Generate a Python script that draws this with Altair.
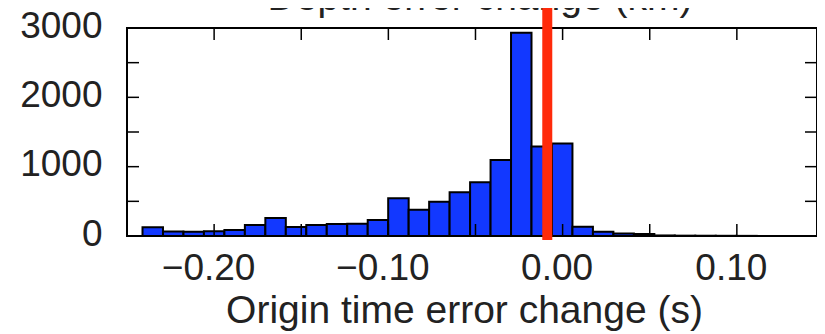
import altair as alt
import pandas as pd

# Histogram of origin time error change (s)
bin_start = -0.2411
bin_width = 0.01175
counts = [125, 65, 60, 70, 88, 160, 258, 130, 160, 173, 175, 230, 545, 380,
          495, 630, 775, 1095, 2930, 1290, 1335, 135, 60, 35, 30, 8, 5, 4, 3, 2]
red_line_x = [-0.0088]
x_tick_values = [-0.20, -0.15, -0.10, -0.05, 0.00, 0.05, 0.10]
y_tick_values = [500, 1000, 1500, 2000, 2500]
x_label_values = [-0.20, -0.10, 0.00, 0.10]
y_label_values = [0, 1000, 2000, 3000]
title_text = ["Depth error change (km)"]
x_title = "Origin time error change (s)"

bin_lo = [bin_start + i * bin_width for i in range(len(counts))]
bin_hi = [b + bin_width for b in bin_lo]
df = pd.DataFrame({"lo": bin_lo, "hi": bin_hi, "count": counts})

W, H = 690, 208
FONT = "Liberation Sans"
xscale = alt.Scale(domain=[-0.25, 0.146], nice=False, zero=False)
yscale = alt.Scale(domain=[0, 3000], nice=False)

xaxis = alt.Axis(values=x_label_values, format=".2f", grid=False, ticks=False,
                 domain=False, labelFontSize=37, labelFont=FONT, labelColor="#222",
                 labelPadding=14, labelOffset=-6, title=x_title, titleFont=FONT,
                 titleFontSize=39, titleFontWeight="normal", titleColor="#222",
                 titleX=337, titleY=86, titleBaseline="alphabetic", titleAlign="center")
yaxis = alt.Axis(values=y_label_values, format="d", grid=False, ticks=False,
                 domain=False, labelFontSize=37, labelFont=FONT, labelColor="#222",
                 labelPadding=25, labelOffset=-2, title=None)

bars = alt.Chart(df).mark_rect(color="#1238ff", stroke="black", strokeWidth=2).encode(
    x=alt.X("lo:Q", scale=xscale, axis=xaxis),
    x2="hi:Q",
    y=alt.Y("count:Q", scale=yscale, axis=yaxis),
    y2=alt.datum(0),
)

xt = pd.DataFrame({"v": x_tick_values})
yt = pd.DataFrame({"v": y_tick_values})
tick_style = dict(color="black", strokeWidth=1.5)
xt_bottom = alt.Chart(xt).mark_rule(**tick_style).encode(
    x=alt.X("v:Q", scale=xscale), y=alt.value(H), y2=alt.value(H - 12))
xt_top = alt.Chart(xt).mark_rule(**tick_style).encode(
    x=alt.X("v:Q", scale=xscale), y=alt.value(0), y2=alt.value(12))
yt_left = alt.Chart(yt).mark_rule(**tick_style).encode(
    y=alt.Y("v:Q", scale=yscale), x=alt.value(0), x2=alt.value(12))
yt_right = alt.Chart(yt).mark_rule(**tick_style).encode(
    y=alt.Y("v:Q", scale=yscale), x=alt.value(W), x2=alt.value(W - 12))

title = alt.Chart(pd.DataFrame({"t": title_text})).mark_text(
    font=FONT, fontSize=39, color="#222", align="center", baseline="alphabetic"
).encode(text="t:N", x=alt.value(353), y=alt.value(-18))

red = alt.Chart(pd.DataFrame({"x": red_line_x})).mark_rule(
    color="#ff2a0a", strokeWidth=10
).encode(x=alt.X("x:Q", scale=xscale), y=alt.value(-28), y2=alt.value(H + 4))

chart = alt.layer(bars, xt_bottom, xt_top, yt_left, yt_right, title, red).properties(
    width=W, height=H,
    autosize=alt.AutoSizeParams(type="none"),
    padding={"left": 119, "top": 20, "right": 0, "bottom": 98},
    background="white",
).configure_view(stroke="black", strokeWidth=2)

chart.save("out.html", embed_options={"renderer": "svg", "actions": False})
